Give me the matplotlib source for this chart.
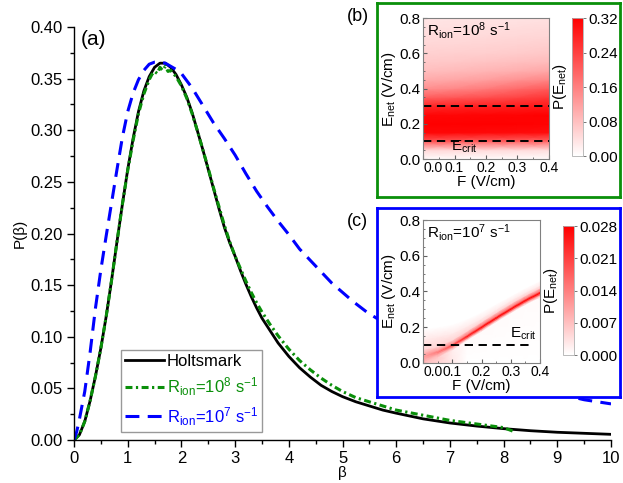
import numpy as np
import matplotlib
matplotlib.use('Agg')
import matplotlib.pyplot as plt
from matplotlib.colors import LinearSegmentedColormap
from matplotlib.ticker import MultipleLocator, FixedLocator, FormatStrFormatter

plt.rcParams['font.family'] = ['Liberation Sans', 'DejaVu Sans']
plt.rcParams['mathtext.fontset'] = 'custom'
plt.rcParams['mathtext.rm'] = 'Liberation Sans'
plt.rcParams['mathtext.it'] = 'Liberation Sans:italic'
plt.rcParams['mathtext.bf'] = 'Liberation Sans:bold'
plt.rcParams['lines.scale_dashes'] = False

# ---------------- data ----------------
beta_holts = [0, 0.1, 0.2, 0.3, 0.4, 0.5, 0.6, 0.7, 0.8, 0.9, 1.0, 1.1, 1.2, 1.3, 1.4,
              1.5, 1.6, 1.7, 1.8, 1.9, 2.0, 2.1, 2.2, 2.3, 2.4, 2.5, 2.6, 2.7, 2.8, 2.9,
              3.0, 3.1, 3.2, 3.3, 3.4, 3.5, 3.65, 3.8, 4.0, 4.2, 4.4, 4.6, 4.8, 5.0,
              5.25, 5.5, 5.75, 6.0, 6.5, 7.0, 7.5, 8.0, 8.5, 9.0, 9.5, 10.0]
p_holts = [0, 0.005, 0.018, 0.038, 0.062, 0.089, 0.120, 0.155, 0.192, 0.228, 0.262,
           0.292, 0.318, 0.338, 0.352, 0.361, 0.365, 0.365, 0.361, 0.354, 0.344, 0.332,
           0.317, 0.299, 0.281, 0.262, 0.243, 0.224, 0.206, 0.191, 0.178, 0.164, 0.151,
           0.139, 0.128, 0.118, 0.106, 0.094, 0.081, 0.070, 0.061, 0.053, 0.047, 0.042,
           0.037, 0.033, 0.029, 0.026, 0.0205, 0.0165, 0.0135, 0.011, 0.009, 0.0075,
           0.0065, 0.0055]

beta_r8 = [0, 0.1, 0.2, 0.3, 0.4, 0.5, 0.6, 0.7, 0.8, 0.9, 1.0, 1.1, 1.2, 1.3, 1.4,
           1.45, 1.5, 1.55, 1.6, 1.65, 1.7, 1.75, 1.8, 1.9, 2.0, 2.1, 2.2, 2.3, 2.4,
           2.5, 2.6, 2.7, 2.8, 2.9, 3.0, 3.1, 3.2, 3.3, 3.4, 3.5, 3.65, 3.8, 4.0, 4.2,
           4.4, 4.6, 4.8, 5.0, 5.25, 5.5, 5.75, 6.0, 6.5, 7.0, 7.5, 8.0, 8.2]
p_r8 = [0, 0.005, 0.018, 0.038, 0.062, 0.089, 0.120, 0.155, 0.192, 0.228, 0.261,
        0.290, 0.316, 0.335, 0.349, 0.354, 0.357, 0.355, 0.361, 0.358, 0.362, 0.357,
        0.358, 0.352, 0.343, 0.331, 0.316, 0.299, 0.281, 0.263, 0.244, 0.226, 0.208,
        0.192, 0.178, 0.166, 0.154, 0.143, 0.133, 0.124, 0.112, 0.101, 0.088, 0.077,
        0.068, 0.060, 0.053, 0.047, 0.041, 0.037, 0.033, 0.029, 0.024, 0.019, 0.0155,
        0.012, 0.008]

beta_r7 = [0, 0.05, 0.1, 0.2, 0.3, 0.4, 0.5, 0.6, 0.7, 0.8, 0.9, 1.0, 1.1, 1.2, 1.3,
           1.4, 1.5, 1.6, 1.7, 1.8, 1.9, 2.0, 2.2, 2.4, 2.6, 2.8, 3.0, 3.2, 3.4, 3.6,
           3.8, 4.0, 4.2, 4.4, 4.6, 4.8, 5.0, 5.2, 5.45, 6.0, 6.5, 7.0, 7.5, 8.0, 8.5,
           9.0, 9.5, 10.0]
p_r7 = [0, 0.008, 0.020, 0.047, 0.085, 0.128, 0.165, 0.198, 0.230, 0.262, 0.293, 0.318,
        0.336, 0.349, 0.358, 0.364, 0.366, 0.366, 0.365, 0.362, 0.359, 0.355, 0.341,
        0.324, 0.307, 0.292, 0.276, 0.258, 0.241, 0.226, 0.212, 0.199, 0.185, 0.174,
        0.163, 0.152, 0.143, 0.134, 0.124, 0.106, 0.092, 0.080, 0.069, 0.060, 0.052,
        0.045, 0.039, 0.035]

# inset axes ticks
F_ticks = [0.0, 0.1, 0.2, 0.3, 0.4]
E_ticks = [0.0, 0.2, 0.4, 0.6, 0.8]

# inset (b): P(E_net) on a grid, rows = E_net, columns = F
F_b = [0.0, 0.1, 0.2, 0.3, 0.4]
E_b = [0.00, 0.05, 0.10, 0.15, 0.20, 0.25, 0.30, 0.35, 0.40, 0.45, 0.50, 0.55, 0.60,
       0.65, 0.70, 0.75, 0.80]
P_b = [
    [0.005, 0.005, 0.005, 0.005, 0.005],
    [0.050, 0.048, 0.046, 0.044, 0.042],
    [0.210, 0.205, 0.200, 0.195, 0.190],
    [0.310, 0.310, 0.308, 0.305, 0.302],
    [0.320, 0.320, 0.320, 0.318, 0.316],
    [0.310, 0.312, 0.314, 0.316, 0.318],
    [0.270, 0.275, 0.280, 0.285, 0.290],
    [0.200, 0.210, 0.220, 0.235, 0.250],
    [0.140, 0.150, 0.165, 0.185, 0.205],
    [0.105, 0.112, 0.122, 0.137, 0.152],
    [0.082, 0.087, 0.093, 0.101, 0.110],
    [0.068, 0.071, 0.075, 0.080, 0.085],
    [0.058, 0.060, 0.062, 0.066, 0.070],
    [0.050, 0.052, 0.054, 0.057, 0.060],
    [0.044, 0.045, 0.047, 0.049, 0.052],
    [0.038, 0.039, 0.041, 0.043, 0.045],
    [0.033, 0.034, 0.035, 0.036, 0.038],
]

# inset (c): per-F-column profile samples (E_net positions and values)
F_c = [0.0, 0.05, 0.10, 0.15, 0.20, 0.25, 0.30, 0.35, 0.40]
E_c = [
    [0.000, 0.000, 0.000, 0.000, 0.000, 0.000, 0.000, 0.000, 0.000],
    [0.005, 0.030, 0.070, 0.125, 0.175, 0.228, 0.278, 0.325, 0.365],
    [0.020, 0.050, 0.088, 0.138, 0.190, 0.242, 0.292, 0.340, 0.382],
    [0.035, 0.060, 0.098, 0.148, 0.200, 0.252, 0.302, 0.350, 0.392],
    [0.050, 0.070, 0.108, 0.158, 0.210, 0.262, 0.312, 0.360, 0.402],
    [0.075, 0.092, 0.128, 0.178, 0.230, 0.282, 0.332, 0.378, 0.420],
    [0.130, 0.145, 0.165, 0.205, 0.250, 0.300, 0.350, 0.395, 0.435],
    [0.190, 0.200, 0.215, 0.245, 0.285, 0.330, 0.375, 0.420, 0.460],
    [0.800, 0.800, 0.800, 0.800, 0.800, 0.800, 0.800, 0.800, 0.800],
]
P_c = [
    [0.0070, 0.0050, 0.0025, 0.0000, 0.0000, 0.0000, 0.0000, 0.0000, 0.0000],
    [0.0080, 0.0060, 0.0020, 0.0005, 0.0005, 0.0005, 0.0005, 0.0005, 0.0005],
    [0.0095, 0.0110, 0.0120, 0.0140, 0.0150, 0.0150, 0.0150, 0.0150, 0.0150],
    [0.0105, 0.0145, 0.0200, 0.0250, 0.0275, 0.0280, 0.0280, 0.0280, 0.0280],
    [0.0090, 0.0110, 0.0120, 0.0140, 0.0150, 0.0150, 0.0150, 0.0150, 0.0150],
    [0.0045, 0.0045, 0.0045, 0.0045, 0.0045, 0.0045, 0.0045, 0.0050, 0.0050],
    [0.0025, 0.0025, 0.0022, 0.0020, 0.0020, 0.0020, 0.0020, 0.0020, 0.0020],
    [0.0000, 0.0000, 0.0000, 0.0000, 0.0000, 0.0000, 0.0000, 0.0000, 0.0000],
    [0.0000, 0.0000, 0.0000, 0.0000, 0.0000, 0.0000, 0.0000, 0.0000, 0.0000],
]

E_crit = 0.1
E_upper_b = 0.3

# ---------------- figure ----------------
fig = plt.figure(figsize=(6.23, 4.83), dpi=100)
fig.patch.set_facecolor('white')

GREEN = '#0a8f0a'
BLUE = '#0000ff'

ax = fig.add_axes([0.1188, 0.0890, 0.862, 0.855], zorder=1)
ax.plot(beta_holts, p_holts, color='black', lw=2.0, label='Holtsmark')
ax.plot(beta_r8, p_r8, color=GREEN, lw=2.2, ls=(0, (5, 2.5, 1.6, 2.5)),
        label=r'R$_{\rm ion}$=10$^{8}$ s$^{-1}$')
ax.plot(beta_r7, p_r7, color=BLUE, lw=2.2, ls=(0, (10, 6)),
        label=r'R$_{\rm ion}$=10$^{7}$ s$^{-1}$')
ax.set_xlim(0, 10)
ax.set_ylim(0, 0.40)
ax.spines['top'].set_visible(False)
ax.spines['right'].set_visible(False)
for s in ('left', 'bottom'):
    ax.spines[s].set_linewidth(1.0)
ax.xaxis.set_major_locator(MultipleLocator(1))
ax.xaxis.set_minor_locator(MultipleLocator(0.5))
ax.yaxis.set_major_locator(MultipleLocator(0.05))
ax.yaxis.set_minor_locator(MultipleLocator(0.025))
ax.yaxis.set_major_formatter(FormatStrFormatter('%.2f'))
ax.tick_params(which='major', direction='out', length=5, width=1.0, labelsize=12, pad=3)
ax.tick_params(which='minor', direction='out', length=3, width=1.0)
ax.set_xlabel('β', fontsize=11, labelpad=0)
ax.set_ylabel('P(β)', fontsize=11, labelpad=3)
ax.text(0.012, 0.992, '(a)', transform=ax.transAxes, fontsize=15, va='top', ha='left')

leg = ax.legend(loc='lower left', bbox_to_anchor=(0.088, 0.02), fontsize=12,
                frameon=True, fancybox=False, handlelength=2.3, handletextpad=0.2,
                labelspacing=0.4, borderpad=0.25, borderaxespad=0)
leg.get_frame().set_edgecolor('#808080')
leg.get_frame().set_linewidth(1.0)
for txt, col in zip(leg.get_texts(), ['black', GREEN, BLUE]):
    txt.set_color(col)

cmap = LinearSegmentedColormap.from_list('wr', ['#ffffff', '#ff0000'])


def make_box(rect, color):
    b = fig.add_axes(rect, zorder=2)
    b.set_xticks([])
    b.set_yticks([])
    b.set_facecolor('white')
    for s in b.spines.values():
        s.set_color(color)
        s.set_linewidth(2.0)
    return b


def style_inset(a):
    a.set_xlim(0, 0.4)
    a.set_ylim(0, 0.8)
    a.xaxis.set_major_locator(FixedLocator(F_ticks))
    a.xaxis.set_minor_locator(MultipleLocator(0.05))
    a.yaxis.set_major_locator(FixedLocator(E_ticks))
    a.yaxis.set_minor_locator(MultipleLocator(0.05))
    a.xaxis.set_major_formatter(FormatStrFormatter('%.1f'))
    a.yaxis.set_major_formatter(FormatStrFormatter('%.1f'))
    a.tick_params(which='major', direction='in', length=3, width=0.8, labelsize=11,
                  pad=1.5, color='#606060')
    a.tick_params(axis='x', which='major', labelsize=10)
    a.tick_params(which='minor', direction='in', length=1.5, width=0.6, color='#606060')
    for s in a.spines.values():
        s.set_color('#808080')
        s.set_linewidth(0.8)
    a.set_xlabel('F (V/cm)', fontsize=11, labelpad=0)
    a.set_ylabel(r'E$_{\rm net}$ (V/cm)', fontsize=11, labelpad=1)
    ticks = a.xaxis.get_major_ticks(len(F_ticks))
    ticks[0].label1.set_horizontalalignment('left')


def style_cbar(cb, ticks, fmt):
    cb.set_ticks(ticks)
    cb.ax.yaxis.set_major_formatter(FormatStrFormatter(fmt))
    cb.ax.tick_params(labelsize=11, length=2, width=0.6, direction='out', pad=2,
                      color='#606060')
    cb.outline.set_edgecolor('#b0b0b0')
    cb.outline.set_linewidth(0.6)
    cb.ax.yaxis.set_label_position('left')


# ----- inset (b) -----
make_box([0.605, 0.592, 0.390, 0.402], GREEN)
axb = fig.add_axes([0.679, 0.6708, 0.2022, 0.2913], zorder=3)
Xb, Yb = np.meshgrid(F_b, E_b)
mb = axb.pcolormesh(Xb, Yb, np.array(P_b), shading='gouraud', cmap=cmap, vmin=0, vmax=0.32,
                    rasterized=True)
axb.plot([0, 0.4], [E_upper_b, E_upper_b], color='black', lw=1.4, ls=(0, (6, 4)))
axb.plot([0, 0.4], [E_crit, E_crit], color='black', lw=1.4, ls=(0, (6, 4)))
style_inset(axb)
axb.text(0.012, 0.79, r'R$_{\rm ion}$=10$^{8}$ s$^{-1}$', fontsize=11, va='top', ha='left')
axb.text(0.09, 0.02, r'E$_{\rm crit}$', fontsize=11, va='bottom', ha='left')
cab = fig.add_axes([0.918, 0.677, 0.0177, 0.2857], zorder=3)
cbb = fig.colorbar(mb, cax=cab)
style_cbar(cbb, [0, 0.08, 0.16, 0.24, 0.32], '%.2f')
cbb.set_label(r'P(E$_{\rm net}$)', fontsize=11, labelpad=2)
fig.text(0.556, 0.983, '(b)', fontsize=13, va='top', ha='left')

# ----- inset (c) -----
make_box([0.605, 0.178, 0.390, 0.391], BLUE)
axc = fig.add_axes([0.679, 0.2491, 0.1878, 0.2954], zorder=3)
Xc = np.tile(np.array(F_c), (len(E_c), 1))
mc = axc.pcolormesh(Xc, np.array(E_c), np.array(P_c), shading='gouraud', cmap=cmap,
                    vmin=0, vmax=0.028, rasterized=True)
axc.plot([0, 0.375], [E_crit, E_crit], color='black', lw=1.4, ls=(0, (6, 4)))
style_inset(axc)
axc.text(0.012, 0.79, r'R$_{\rm ion}$=10$^{7}$ s$^{-1}$', fontsize=11, va='top', ha='left')
axc.text(0.298, 0.115, r'E$_{\rm crit}$', fontsize=11, va='bottom', ha='left')
cac = fig.add_axes([0.9037, 0.265, 0.0177, 0.267], zorder=3)
cbc = fig.colorbar(mc, cax=cac)
style_cbar(cbc, [0, 0.007, 0.014, 0.021, 0.028], '%.3f')
cbc.set_label(r'P(E$_{\rm net}$)', fontsize=11, labelpad=2)
fig.text(0.557, 0.558, '(c)', fontsize=13, va='top', ha='left')

fig.savefig('out.png', dpi=100, facecolor='white')
